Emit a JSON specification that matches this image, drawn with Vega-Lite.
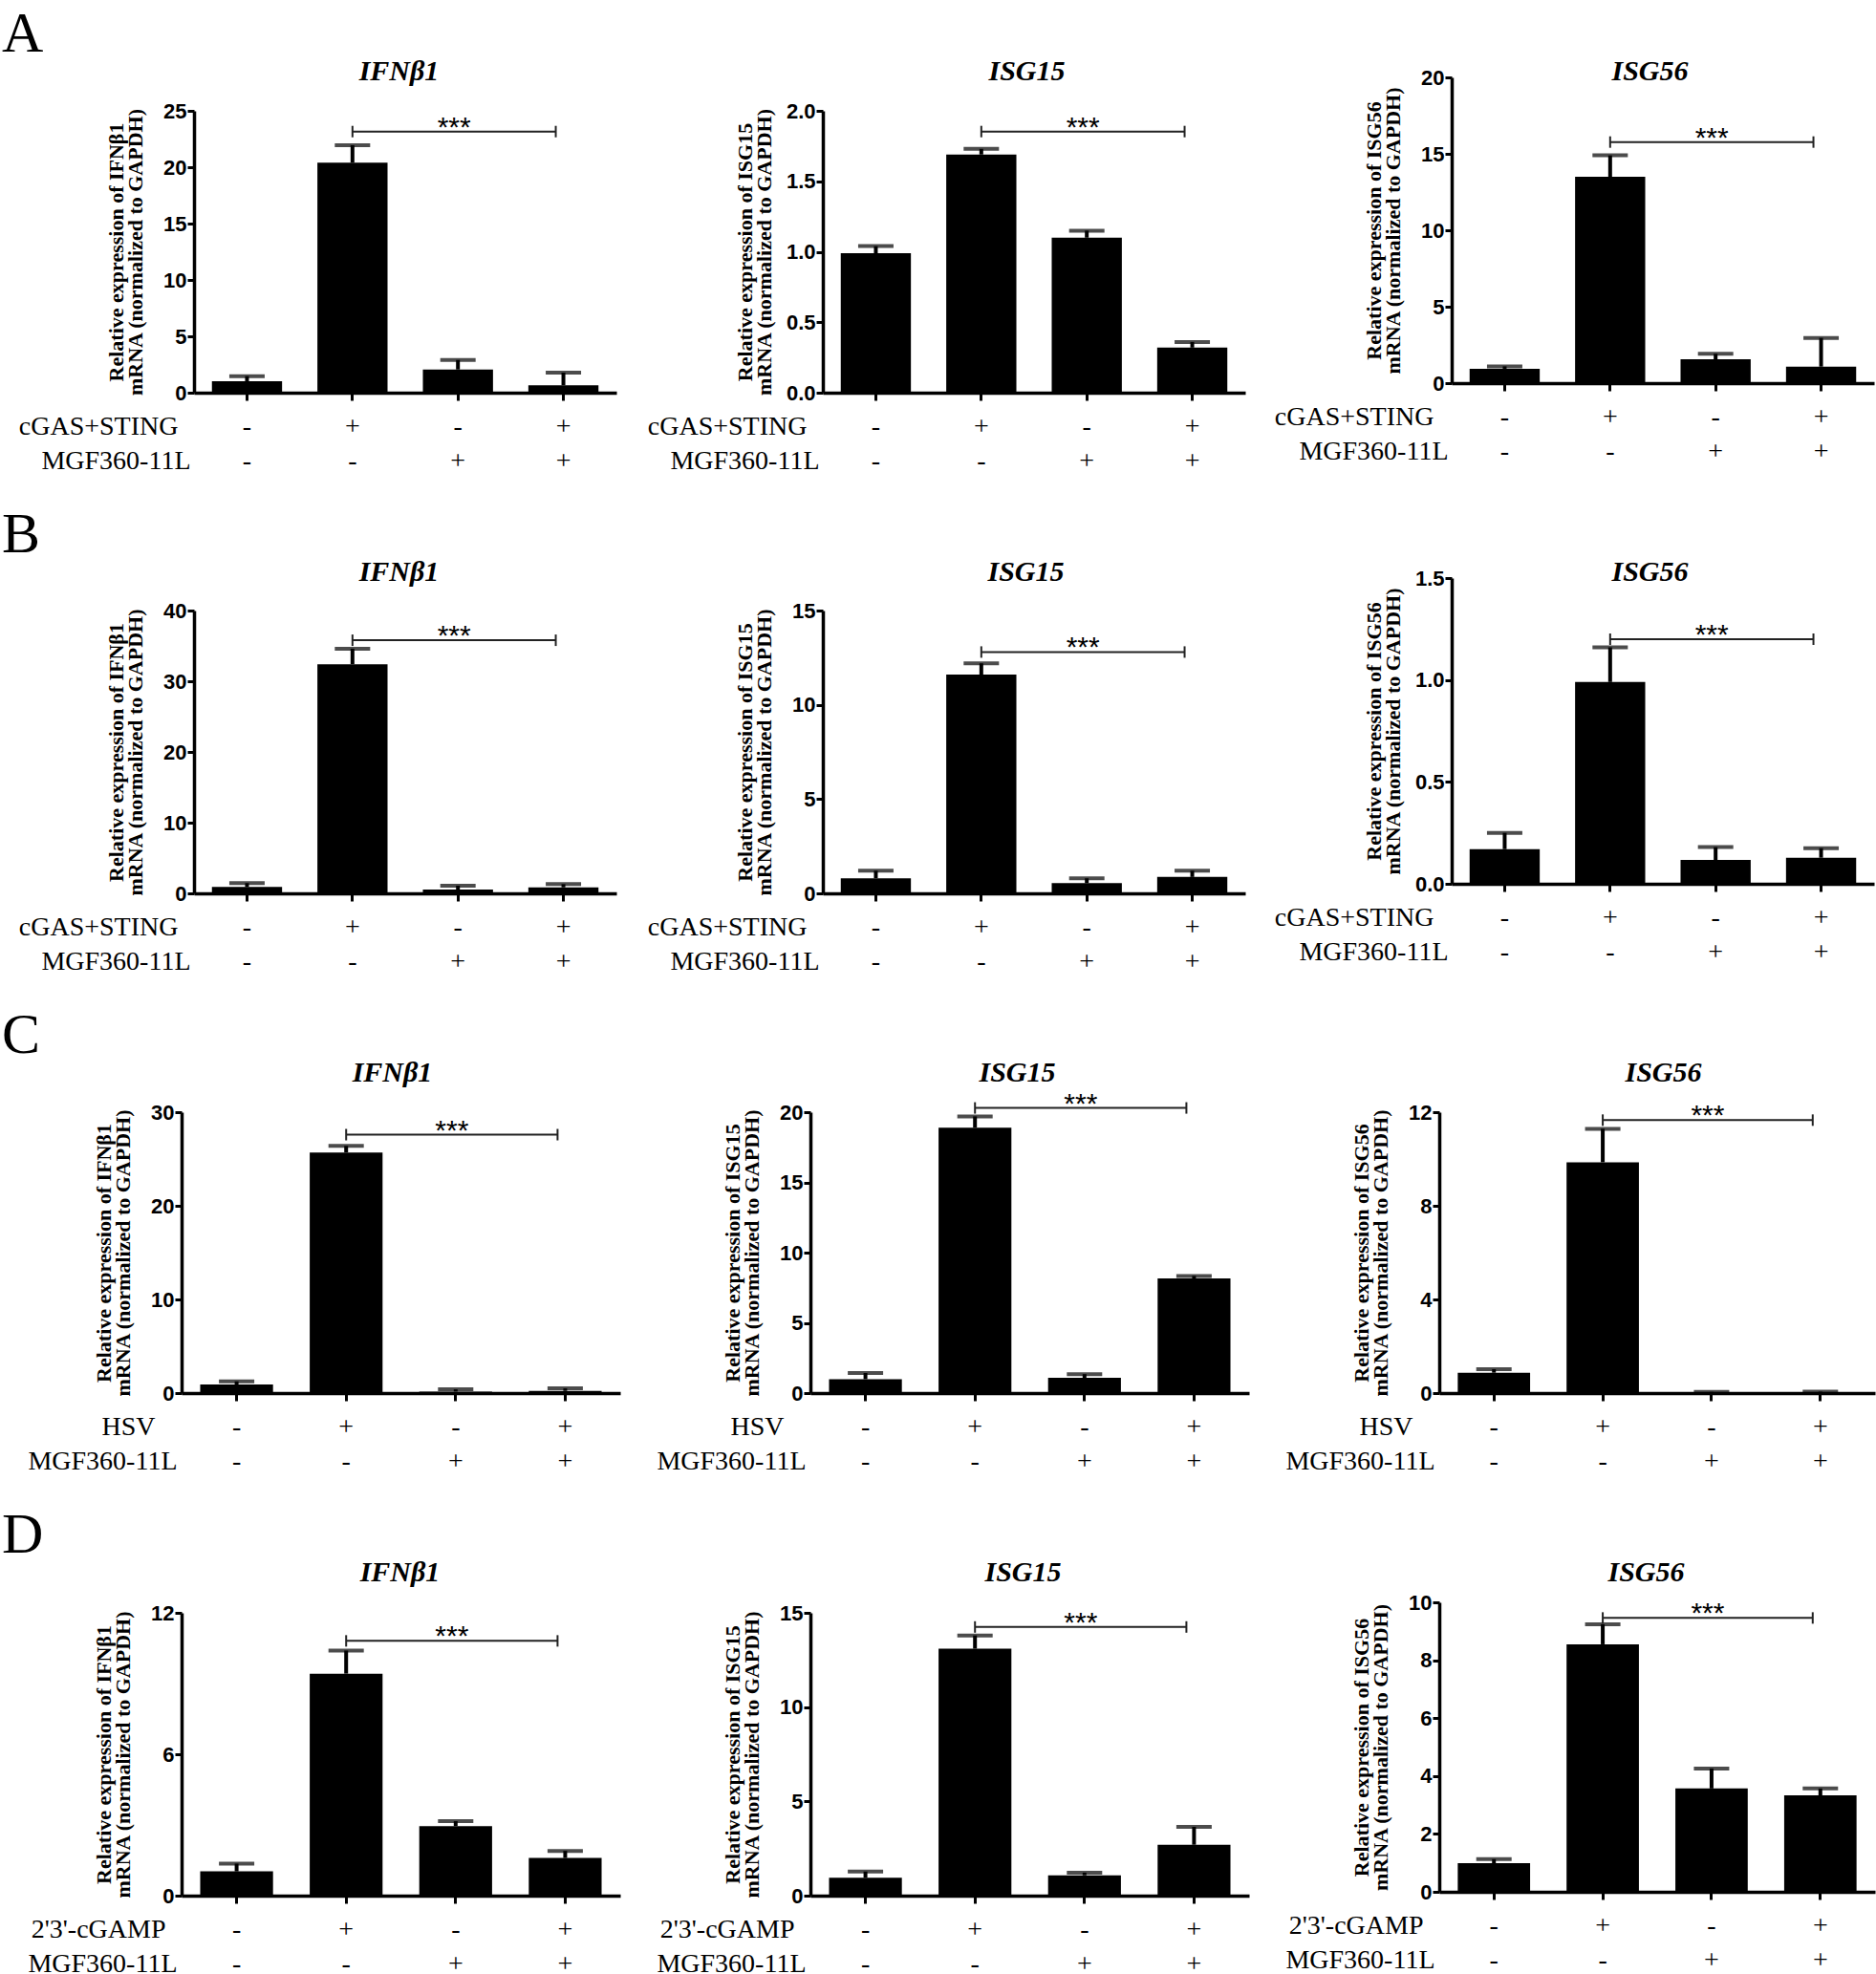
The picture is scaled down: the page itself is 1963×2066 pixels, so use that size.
{
"$schema": "https://vega.github.io/schema/vega-lite/v6.json",
"background": "white",
"padding": {"left": 2, "top": 6, "right": 0, "bottom": 0},
"bounds": "flush",
"align": "each",
"columns": 3,
"spacing": {"row": 194, "column": 216},
"concat": [
{"width":442,"height":330,
 "title":{"text":"A","anchor":"start","frame":"group","dx":-201,"offset":-55,"font":"Liberation Serif","fontSize":60,"fontWeight":"normal","baseline":"alphabetic","color":"black"},
 "data":{"values":[{"cond":"-|-","mean":1.02,"hi":1.47},{"cond":"+|-","mean":20.4,"hi":21.95},{"cond":"-|+","mean":2.06,"hi":2.9},{"cond":"+|+","mean":0.65,"hi":1.78}]},
 "resolve":{"axis":{"x":"independent","y":"independent"}},
 "layer":[
  {"mark":{"type":"bar","color":"black"},"encoding":{
    "x":{"field":"cond","type":"nominal","scale":{"domain":["-|-","+|-","-|+","+|+"],"paddingInner":0.335,"paddingOuter":0.17},"axis":{"orient":"bottom","labelExpr":"split(datum.label, '|')","title":"cGAS+STING","titleX":-17}},
    "y":{"field":"mean","type":"quantitative","scale":{"domain":[0,25],"nice":false,"range":[330,35]},"axis":{"values":[0,5,10,15,20,25],"format":"d","title":["Relative expression of IFNβ1","mRNA (normalized to GAPDH)"],"titleY":182.5}}}},
  {"mark":{"type":"rule","color":"black","strokeWidth":4},"encoding":{
    "x":{"field":"cond","type":"nominal","scale":{"domain":["-|-","+|-","-|+","+|+"]},"axis":{"orient":"bottom","domain":false,"ticks":false,"labels":false,"title":"MGF360-11L","titleX":-4,"titleY":57}},
    "y":{"field":"mean","type":"quantitative","scale":{"domain":[0,25]},"axis":null},"y2":{"field":"hi"}}},
  {"mark":{"type":"tick","color":"black","thickness":4,"size":37},"encoding":{
    "x":{"field":"cond","type":"nominal","scale":{"domain":["-|-","+|-","-|+","+|+"]},"axis":null},
    "y":{"field":"hi","type":"quantitative","scale":{"domain":[0,25]},"axis":null}}},
  {"data":{"values":[{"cond":"+|-","cond2":"+|+","y":23.16}]},"mark":{"type":"rule","color":"#222","strokeWidth":2,"x2Offset":-8},"encoding":{
    "x":{"field":"cond","type":"nominal","scale":{"domain":["-|-","+|-","-|+","+|+"]},"axis":null},"x2":{"field":"cond2"},
    "y":{"field":"y","type":"quantitative","scale":{"domain":[0,25]},"axis":null}}},
  {"data":{"values":[{"cond":"+|-","y":23.16}]},"mark":{"type":"point","shape":"M0,-1L0,1","size":144,"filled":false,"color":"#222","strokeWidth":2,"opacity":1},"encoding":{
    "x":{"field":"cond","type":"nominal","scale":{"domain":["-|-","+|-","-|+","+|+"]},"axis":null},
    "y":{"field":"y","type":"quantitative","scale":{"domain":[0,25]},"axis":null}}},
  {"data":{"values":[{"cond":"+|+","y":23.16}]},"mark":{"type":"point","shape":"M0,-1L0,1","size":144,"filled":false,"color":"#222","strokeWidth":2,"opacity":1,"xOffset":-8},"encoding":{
    "x":{"field":"cond","type":"nominal","scale":{"domain":["-|-","+|-","-|+","+|+"]},"axis":null},
    "y":{"field":"y","type":"quantitative","scale":{"domain":[0,25]},"axis":null}}},
  {"data":{"values":[{"cond":"-|+","y":23.16,"t":"***"}]},"mark":{"type":"text","font":"Liberation Sans","fontSize":30,"baseline":"alphabetic","dx":-4,"dy":5,"color":"black"},"encoding":{
    "x":{"field":"cond","type":"nominal","scale":{"domain":["-|-","+|-","-|+","+|+"]},"axis":{"orient":"top","title":"IFNβ1","titleX":214}},
    "y":{"field":"y","type":"quantitative","scale":{"domain":[0,25]},"axis":null},"text":{"field":"t"}}}
 ]},
{"width":442,"height":330,
 "data":{"values":[{"cond":"-|-","mean":0.99,"hi":1.04},{"cond":"+|-","mean":1.69,"hi":1.73},{"cond":"-|+","mean":1.10,"hi":1.15},{"cond":"+|+","mean":0.32,"hi":0.36}]},
 "resolve":{"axis":{"x":"independent","y":"independent"}},
 "layer":[
  {"mark":{"type":"bar","color":"black"},"encoding":{
    "x":{"field":"cond","type":"nominal","scale":{"domain":["-|-","+|-","-|+","+|+"],"paddingInner":0.335,"paddingOuter":0.17},"axis":{"orient":"bottom","labelExpr":"split(datum.label, '|')","title":"cGAS+STING","titleX":-17}},
    "y":{"field":"mean","type":"quantitative","scale":{"domain":[0,2],"nice":false,"range":[330,35]},"axis":{"values":[0,0.5,1,1.5,2],"format":".1f","title":["Relative expression of ISG15","mRNA (normalized to GAPDH)"],"titleY":182.5}}}},
  {"mark":{"type":"rule","color":"black","strokeWidth":4},"encoding":{
    "x":{"field":"cond","type":"nominal","scale":{"domain":["-|-","+|-","-|+","+|+"]},"axis":{"orient":"bottom","domain":false,"ticks":false,"labels":false,"title":"MGF360-11L","titleX":-4,"titleY":57}},
    "y":{"field":"mean","type":"quantitative","scale":{"domain":[0,2]},"axis":null},"y2":{"field":"hi"}}},
  {"mark":{"type":"tick","color":"black","thickness":4,"size":37},"encoding":{
    "x":{"field":"cond","type":"nominal","scale":{"domain":["-|-","+|-","-|+","+|+"]},"axis":null},
    "y":{"field":"hi","type":"quantitative","scale":{"domain":[0,2]},"axis":null}}},
  {"data":{"values":[{"cond":"+|-","cond2":"+|+","y":1.853}]},"mark":{"type":"rule","color":"#222","strokeWidth":2,"x2Offset":-8},"encoding":{
    "x":{"field":"cond","type":"nominal","scale":{"domain":["-|-","+|-","-|+","+|+"]},"axis":null},"x2":{"field":"cond2"},
    "y":{"field":"y","type":"quantitative","scale":{"domain":[0,2]},"axis":null}}},
  {"data":{"values":[{"cond":"+|-","y":1.853}]},"mark":{"type":"point","shape":"M0,-1L0,1","size":144,"filled":false,"color":"#222","strokeWidth":2,"opacity":1},"encoding":{
    "x":{"field":"cond","type":"nominal","scale":{"domain":["-|-","+|-","-|+","+|+"]},"axis":null},
    "y":{"field":"y","type":"quantitative","scale":{"domain":[0,2]},"axis":null}}},
  {"data":{"values":[{"cond":"+|+","y":1.853}]},"mark":{"type":"point","shape":"M0,-1L0,1","size":144,"filled":false,"color":"#222","strokeWidth":2,"opacity":1,"xOffset":-8},"encoding":{
    "x":{"field":"cond","type":"nominal","scale":{"domain":["-|-","+|-","-|+","+|+"]},"axis":null},
    "y":{"field":"y","type":"quantitative","scale":{"domain":[0,2]},"axis":null}}},
  {"data":{"values":[{"cond":"-|+","y":1.853,"t":"***"}]},"mark":{"type":"text","font":"Liberation Sans","fontSize":30,"baseline":"alphabetic","dx":-4,"dy":5,"color":"black"},"encoding":{
    "x":{"field":"cond","type":"nominal","scale":{"domain":["-|-","+|-","-|+","+|+"]},"axis":{"orient":"top","title":"ISG15","titleX":213}},
    "y":{"field":"y","type":"quantitative","scale":{"domain":[0,2]},"axis":null},"text":{"field":"t"}}}
 ]},
{"width":442,"height":320,
 "data":{"values":[{"cond":"-|-","mean":0.94,"hi":1.1},{"cond":"+|-","mean":13.5,"hi":14.9},{"cond":"-|+","mean":1.56,"hi":1.92},{"cond":"+|+","mean":1.08,"hi":2.96}]},
 "resolve":{"axis":{"x":"independent","y":"independent"}},
 "layer":[
  {"mark":{"type":"bar","color":"black"},"encoding":{
    "x":{"field":"cond","type":"nominal","scale":{"domain":["-|-","+|-","-|+","+|+"],"paddingInner":0.335,"paddingOuter":0.17},"axis":{"orient":"bottom","labelExpr":"split(datum.label, '|')","title":"cGAS+STING","titleX":-19}},
    "y":{"field":"mean","type":"quantitative","scale":{"domain":[0,20],"nice":false,"range":[320,0]},"axis":{"values":[0,5,10,15,20],"format":"d","title":["Relative expression of ISG56","mRNA (normalized to GAPDH)"],"titleY":160}}}},
  {"mark":{"type":"rule","color":"black","strokeWidth":4},"encoding":{
    "x":{"field":"cond","type":"nominal","scale":{"domain":["-|-","+|-","-|+","+|+"]},"axis":{"orient":"bottom","domain":false,"ticks":false,"labels":false,"title":"MGF360-11L","titleX":-4,"titleY":57}},
    "y":{"field":"mean","type":"quantitative","scale":{"domain":[0,20]},"axis":null},"y2":{"field":"hi"}}},
  {"mark":{"type":"tick","color":"black","thickness":4,"size":37},"encoding":{
    "x":{"field":"cond","type":"nominal","scale":{"domain":["-|-","+|-","-|+","+|+"]},"axis":null},
    "y":{"field":"hi","type":"quantitative","scale":{"domain":[0,20]},"axis":null}}},
  {"data":{"values":[{"cond":"+|-","cond2":"+|+","y":15.77}]},"mark":{"type":"rule","color":"#222","strokeWidth":2,"x2Offset":-8},"encoding":{
    "x":{"field":"cond","type":"nominal","scale":{"domain":["-|-","+|-","-|+","+|+"]},"axis":null},"x2":{"field":"cond2"},
    "y":{"field":"y","type":"quantitative","scale":{"domain":[0,20]},"axis":null}}},
  {"data":{"values":[{"cond":"+|-","y":15.77}]},"mark":{"type":"point","shape":"M0,-1L0,1","size":144,"filled":false,"color":"#222","strokeWidth":2,"opacity":1},"encoding":{
    "x":{"field":"cond","type":"nominal","scale":{"domain":["-|-","+|-","-|+","+|+"]},"axis":null},
    "y":{"field":"y","type":"quantitative","scale":{"domain":[0,20]},"axis":null}}},
  {"data":{"values":[{"cond":"+|+","y":15.77}]},"mark":{"type":"point","shape":"M0,-1L0,1","size":144,"filled":false,"color":"#222","strokeWidth":2,"opacity":1,"xOffset":-8},"encoding":{
    "x":{"field":"cond","type":"nominal","scale":{"domain":["-|-","+|-","-|+","+|+"]},"axis":null},
    "y":{"field":"y","type":"quantitative","scale":{"domain":[0,20]},"axis":null}}},
  {"data":{"values":[{"cond":"-|+","y":15.77,"t":"***"}]},"mark":{"type":"text","font":"Liberation Sans","fontSize":30,"baseline":"alphabetic","dx":-4,"dy":5,"color":"black"},"encoding":{
    "x":{"field":"cond","type":"nominal","scale":{"domain":["-|-","+|-","-|+","+|+"]},"axis":{"orient":"top","title":"ISG56","titleX":207}},
    "y":{"field":"y","type":"quantitative","scale":{"domain":[0,20]},"axis":null},"text":{"field":"t"}}}
 ]},
{"width":442,"height":330,
 "title":{"text":"B","anchor":"start","frame":"group","dx":-201,"offset":-55,"font":"Liberation Serif","fontSize":60,"fontWeight":"normal","baseline":"alphabetic","color":"black"},
 "data":{"values":[{"cond":"-|-","mean":0.9,"hi":1.45},{"cond":"+|-","mean":32.4,"hi":34.6},{"cond":"-|+","mean":0.54,"hi":1.08},{"cond":"+|+","mean":0.85,"hi":1.31}]},
 "resolve":{"axis":{"x":"independent","y":"independent"}},
 "layer":[
  {"mark":{"type":"bar","color":"black"},"encoding":{
    "x":{"field":"cond","type":"nominal","scale":{"domain":["-|-","+|-","-|+","+|+"],"paddingInner":0.335,"paddingOuter":0.17},"axis":{"orient":"bottom","labelExpr":"split(datum.label, '|')","title":"cGAS+STING","titleX":-17}},
    "y":{"field":"mean","type":"quantitative","scale":{"domain":[0,40],"nice":false,"range":[330,34]},"axis":{"values":[0,10,20,30,40],"format":"d","title":["Relative expression of IFNβ1","mRNA (normalized to GAPDH)"],"titleY":182}}}},
  {"mark":{"type":"rule","color":"black","strokeWidth":4},"encoding":{
    "x":{"field":"cond","type":"nominal","scale":{"domain":["-|-","+|-","-|+","+|+"]},"axis":{"orient":"bottom","domain":false,"ticks":false,"labels":false,"title":"MGF360-11L","titleX":-4,"titleY":57}},
    "y":{"field":"mean","type":"quantitative","scale":{"domain":[0,40]},"axis":null},"y2":{"field":"hi"}}},
  {"mark":{"type":"tick","color":"black","thickness":4,"size":37},"encoding":{
    "x":{"field":"cond","type":"nominal","scale":{"domain":["-|-","+|-","-|+","+|+"]},"axis":null},
    "y":{"field":"hi","type":"quantitative","scale":{"domain":[0,40]},"axis":null}}},
  {"data":{"values":[{"cond":"+|-","cond2":"+|+","y":35.8}]},"mark":{"type":"rule","color":"#222","strokeWidth":2,"x2Offset":-8},"encoding":{
    "x":{"field":"cond","type":"nominal","scale":{"domain":["-|-","+|-","-|+","+|+"]},"axis":null},"x2":{"field":"cond2"},
    "y":{"field":"y","type":"quantitative","scale":{"domain":[0,40]},"axis":null}}},
  {"data":{"values":[{"cond":"+|-","y":35.8}]},"mark":{"type":"point","shape":"M0,-1L0,1","size":144,"filled":false,"color":"#222","strokeWidth":2,"opacity":1},"encoding":{
    "x":{"field":"cond","type":"nominal","scale":{"domain":["-|-","+|-","-|+","+|+"]},"axis":null},
    "y":{"field":"y","type":"quantitative","scale":{"domain":[0,40]},"axis":null}}},
  {"data":{"values":[{"cond":"+|+","y":35.8}]},"mark":{"type":"point","shape":"M0,-1L0,1","size":144,"filled":false,"color":"#222","strokeWidth":2,"opacity":1,"xOffset":-8},"encoding":{
    "x":{"field":"cond","type":"nominal","scale":{"domain":["-|-","+|-","-|+","+|+"]},"axis":null},
    "y":{"field":"y","type":"quantitative","scale":{"domain":[0,40]},"axis":null}}},
  {"data":{"values":[{"cond":"-|+","y":35.8,"t":"***"}]},"mark":{"type":"text","font":"Liberation Sans","fontSize":30,"baseline":"alphabetic","dx":-4,"dy":5,"color":"black"},"encoding":{
    "x":{"field":"cond","type":"nominal","scale":{"domain":["-|-","+|-","-|+","+|+"]},"axis":{"orient":"top","title":"IFNβ1","titleX":214}},
    "y":{"field":"y","type":"quantitative","scale":{"domain":[0,40]},"axis":null},"text":{"field":"t"}}}
 ]},
{"width":442,"height":330,
 "data":{"values":[{"cond":"-|-","mean":0.8,"hi":1.2},{"cond":"+|-","mean":11.6,"hi":12.2},{"cond":"-|+","mean":0.54,"hi":0.8},{"cond":"+|+","mean":0.87,"hi":1.2}]},
 "resolve":{"axis":{"x":"independent","y":"independent"}},
 "layer":[
  {"mark":{"type":"bar","color":"black"},"encoding":{
    "x":{"field":"cond","type":"nominal","scale":{"domain":["-|-","+|-","-|+","+|+"],"paddingInner":0.335,"paddingOuter":0.17},"axis":{"orient":"bottom","labelExpr":"split(datum.label, '|')","title":"cGAS+STING","titleX":-17}},
    "y":{"field":"mean","type":"quantitative","scale":{"domain":[0,15],"nice":false,"range":[330,34]},"axis":{"values":[0,5,10,15],"format":"d","title":["Relative expression of ISG15","mRNA (normalized to GAPDH)"],"titleY":182}}}},
  {"mark":{"type":"rule","color":"black","strokeWidth":4},"encoding":{
    "x":{"field":"cond","type":"nominal","scale":{"domain":["-|-","+|-","-|+","+|+"]},"axis":{"orient":"bottom","domain":false,"ticks":false,"labels":false,"title":"MGF360-11L","titleX":-4,"titleY":57}},
    "y":{"field":"mean","type":"quantitative","scale":{"domain":[0,15]},"axis":null},"y2":{"field":"hi"}}},
  {"mark":{"type":"tick","color":"black","thickness":4,"size":37},"encoding":{
    "x":{"field":"cond","type":"nominal","scale":{"domain":["-|-","+|-","-|+","+|+"]},"axis":null},
    "y":{"field":"hi","type":"quantitative","scale":{"domain":[0,15]},"axis":null}}},
  {"data":{"values":[{"cond":"+|-","cond2":"+|+","y":12.8}]},"mark":{"type":"rule","color":"#222","strokeWidth":2,"x2Offset":-8},"encoding":{
    "x":{"field":"cond","type":"nominal","scale":{"domain":["-|-","+|-","-|+","+|+"]},"axis":null},"x2":{"field":"cond2"},
    "y":{"field":"y","type":"quantitative","scale":{"domain":[0,15]},"axis":null}}},
  {"data":{"values":[{"cond":"+|-","y":12.8}]},"mark":{"type":"point","shape":"M0,-1L0,1","size":144,"filled":false,"color":"#222","strokeWidth":2,"opacity":1},"encoding":{
    "x":{"field":"cond","type":"nominal","scale":{"domain":["-|-","+|-","-|+","+|+"]},"axis":null},
    "y":{"field":"y","type":"quantitative","scale":{"domain":[0,15]},"axis":null}}},
  {"data":{"values":[{"cond":"+|+","y":12.8}]},"mark":{"type":"point","shape":"M0,-1L0,1","size":144,"filled":false,"color":"#222","strokeWidth":2,"opacity":1,"xOffset":-8},"encoding":{
    "x":{"field":"cond","type":"nominal","scale":{"domain":["-|-","+|-","-|+","+|+"]},"axis":null},
    "y":{"field":"y","type":"quantitative","scale":{"domain":[0,15]},"axis":null}}},
  {"data":{"values":[{"cond":"-|+","y":12.8,"t":"***"}]},"mark":{"type":"text","font":"Liberation Sans","fontSize":30,"baseline":"alphabetic","dx":-4,"dy":5,"color":"black"},"encoding":{
    "x":{"field":"cond","type":"nominal","scale":{"domain":["-|-","+|-","-|+","+|+"]},"axis":{"orient":"top","title":"ISG15","titleX":212}},
    "y":{"field":"y","type":"quantitative","scale":{"domain":[0,15]},"axis":null},"text":{"field":"t"}}}
 ]},
{"width":442,"height":320,
 "data":{"values":[{"cond":"-|-","mean":0.17,"hi":0.25},{"cond":"+|-","mean":0.99,"hi":1.16},{"cond":"-|+","mean":0.117,"hi":0.18},{"cond":"+|+","mean":0.128,"hi":0.175}]},
 "resolve":{"axis":{"x":"independent","y":"independent"}},
 "layer":[
  {"mark":{"type":"bar","color":"black"},"encoding":{
    "x":{"field":"cond","type":"nominal","scale":{"domain":["-|-","+|-","-|+","+|+"],"paddingInner":0.335,"paddingOuter":0.17},"axis":{"orient":"bottom","labelExpr":"split(datum.label, '|')","title":"cGAS+STING","titleX":-19}},
    "y":{"field":"mean","type":"quantitative","scale":{"domain":[0,1.5],"nice":false,"range":[320,0]},"axis":{"values":[0,0.5,1,1.5],"format":".1f","title":["Relative expression of ISG56","mRNA (normalized to GAPDH)"],"titleY":160}}}},
  {"mark":{"type":"rule","color":"black","strokeWidth":4},"encoding":{
    "x":{"field":"cond","type":"nominal","scale":{"domain":["-|-","+|-","-|+","+|+"]},"axis":{"orient":"bottom","domain":false,"ticks":false,"labels":false,"title":"MGF360-11L","titleX":-4,"titleY":57}},
    "y":{"field":"mean","type":"quantitative","scale":{"domain":[0,1.5]},"axis":null},"y2":{"field":"hi"}}},
  {"mark":{"type":"tick","color":"black","thickness":4,"size":37},"encoding":{
    "x":{"field":"cond","type":"nominal","scale":{"domain":["-|-","+|-","-|+","+|+"]},"axis":null},
    "y":{"field":"hi","type":"quantitative","scale":{"domain":[0,1.5]},"axis":null}}},
  {"data":{"values":[{"cond":"+|-","cond2":"+|+","y":1.2}]},"mark":{"type":"rule","color":"#222","strokeWidth":2,"x2Offset":-8},"encoding":{
    "x":{"field":"cond","type":"nominal","scale":{"domain":["-|-","+|-","-|+","+|+"]},"axis":null},"x2":{"field":"cond2"},
    "y":{"field":"y","type":"quantitative","scale":{"domain":[0,1.5]},"axis":null}}},
  {"data":{"values":[{"cond":"+|-","y":1.2}]},"mark":{"type":"point","shape":"M0,-1L0,1","size":144,"filled":false,"color":"#222","strokeWidth":2,"opacity":1},"encoding":{
    "x":{"field":"cond","type":"nominal","scale":{"domain":["-|-","+|-","-|+","+|+"]},"axis":null},
    "y":{"field":"y","type":"quantitative","scale":{"domain":[0,1.5]},"axis":null}}},
  {"data":{"values":[{"cond":"+|+","y":1.2}]},"mark":{"type":"point","shape":"M0,-1L0,1","size":144,"filled":false,"color":"#222","strokeWidth":2,"opacity":1,"xOffset":-8},"encoding":{
    "x":{"field":"cond","type":"nominal","scale":{"domain":["-|-","+|-","-|+","+|+"]},"axis":null},
    "y":{"field":"y","type":"quantitative","scale":{"domain":[0,1.5]},"axis":null}}},
  {"data":{"values":[{"cond":"-|+","y":1.2,"t":"***"}]},"mark":{"type":"text","font":"Liberation Sans","fontSize":30,"baseline":"alphabetic","dx":-4,"dy":5,"color":"black"},"encoding":{
    "x":{"field":"cond","type":"nominal","scale":{"domain":["-|-","+|-","-|+","+|+"]},"axis":{"orient":"top","title":"ISG56","titleX":207}},
    "y":{"field":"y","type":"quantitative","scale":{"domain":[0,1.5]},"axis":null},"text":{"field":"t"}}}
 ]},
{"width":442,"height":329,
 "title":{"text":"C","anchor":"start","frame":"group","dx":-201,"offset":-55,"font":"Liberation Serif","fontSize":60,"fontWeight":"normal","baseline":"alphabetic","color":"black"},
 "data":{"values":[{"cond":"-|-","mean":0.92,"hi":1.25},{"cond":"+|-","mean":25.7,"hi":26.4},{"cond":"-|+","mean":0.16,"hi":0.4},{"cond":"+|+","mean":0.23,"hi":0.5}]},
 "resolve":{"axis":{"x":"independent","y":"independent"}},
 "layer":[
  {"mark":{"type":"bar","color":"black"},"encoding":{
    "x":{"field":"cond","type":"nominal","scale":{"domain":["-|-","+|-","-|+","+|+"],"paddingInner":0.335,"paddingOuter":0.17,"range":[-13,446]},"axis":{"orient":"bottom","labelExpr":"split(datum.label, '|')","title":"HSV","titleX":-41}},
    "y":{"field":"mean","type":"quantitative","scale":{"domain":[0,30],"nice":false,"range":[329,35]},"axis":{"values":[0,10,20,30],"format":"d","offset":13,"title":["Relative expression of IFNβ1","mRNA (normalized to GAPDH)"],"titleY":182}}}},
  {"mark":{"type":"rule","color":"black","strokeWidth":4},"encoding":{
    "x":{"field":"cond","type":"nominal","scale":{"domain":["-|-","+|-","-|+","+|+"]},"axis":{"orient":"bottom","domain":false,"ticks":false,"labels":false,"title":"MGF360-11L","titleX":-18,"titleY":57}},
    "y":{"field":"mean","type":"quantitative","scale":{"domain":[0,30]},"axis":null},"y2":{"field":"hi"}}},
  {"mark":{"type":"tick","color":"black","thickness":4,"size":37},"encoding":{
    "x":{"field":"cond","type":"nominal","scale":{"domain":["-|-","+|-","-|+","+|+"]},"axis":null},
    "y":{"field":"hi","type":"quantitative","scale":{"domain":[0,30]},"axis":null}}},
  {"data":{"values":[{"cond":"+|-","cond2":"+|+","y":27.6}]},"mark":{"type":"rule","color":"#222","strokeWidth":2,"x2Offset":-8},"encoding":{
    "x":{"field":"cond","type":"nominal","scale":{"domain":["-|-","+|-","-|+","+|+"]},"axis":null},"x2":{"field":"cond2"},
    "y":{"field":"y","type":"quantitative","scale":{"domain":[0,30]},"axis":null}}},
  {"data":{"values":[{"cond":"+|-","y":27.6}]},"mark":{"type":"point","shape":"M0,-1L0,1","size":144,"filled":false,"color":"#222","strokeWidth":2,"opacity":1},"encoding":{
    "x":{"field":"cond","type":"nominal","scale":{"domain":["-|-","+|-","-|+","+|+"]},"axis":null},
    "y":{"field":"y","type":"quantitative","scale":{"domain":[0,30]},"axis":null}}},
  {"data":{"values":[{"cond":"+|+","y":27.6}]},"mark":{"type":"point","shape":"M0,-1L0,1","size":144,"filled":false,"color":"#222","strokeWidth":2,"opacity":1,"xOffset":-8},"encoding":{
    "x":{"field":"cond","type":"nominal","scale":{"domain":["-|-","+|-","-|+","+|+"]},"axis":null},
    "y":{"field":"y","type":"quantitative","scale":{"domain":[0,30]},"axis":null}}},
  {"data":{"values":[{"cond":"-|+","y":27.6,"t":"***"}]},"mark":{"type":"text","font":"Liberation Sans","fontSize":30,"baseline":"alphabetic","dx":-4,"dy":5,"color":"black"},"encoding":{
    "x":{"field":"cond","type":"nominal","scale":{"domain":["-|-","+|-","-|+","+|+"]},"axis":{"orient":"top","title":"IFNβ1","titleX":207}},
    "y":{"field":"y","type":"quantitative","scale":{"domain":[0,30]},"axis":null},"text":{"field":"t"}}}
 ]},
{"width":442,"height":329,
 "data":{"values":[{"cond":"-|-","mean":0.99,"hi":1.43},{"cond":"+|-","mean":18.9,"hi":19.7},{"cond":"-|+","mean":1.08,"hi":1.35},{"cond":"+|+","mean":8.16,"hi":8.34}]},
 "resolve":{"axis":{"x":"independent","y":"independent"}},
 "layer":[
  {"mark":{"type":"bar","color":"black"},"encoding":{
    "x":{"field":"cond","type":"nominal","scale":{"domain":["-|-","+|-","-|+","+|+"],"paddingInner":0.335,"paddingOuter":0.17,"range":[-13,446]},"axis":{"orient":"bottom","labelExpr":"split(datum.label, '|')","title":"HSV","titleX":-41}},
    "y":{"field":"mean","type":"quantitative","scale":{"domain":[0,20],"nice":false,"range":[329,35]},"axis":{"values":[0,5,10,15,20],"format":"d","offset":13,"title":["Relative expression of ISG15","mRNA (normalized to GAPDH)"],"titleY":182}}}},
  {"mark":{"type":"rule","color":"black","strokeWidth":4},"encoding":{
    "x":{"field":"cond","type":"nominal","scale":{"domain":["-|-","+|-","-|+","+|+"]},"axis":{"orient":"bottom","domain":false,"ticks":false,"labels":false,"title":"MGF360-11L","titleX":-18,"titleY":57}},
    "y":{"field":"mean","type":"quantitative","scale":{"domain":[0,20]},"axis":null},"y2":{"field":"hi"}}},
  {"mark":{"type":"tick","color":"black","thickness":4,"size":37},"encoding":{
    "x":{"field":"cond","type":"nominal","scale":{"domain":["-|-","+|-","-|+","+|+"]},"axis":null},
    "y":{"field":"hi","type":"quantitative","scale":{"domain":[0,20]},"axis":null}}},
  {"data":{"values":[{"cond":"+|-","cond2":"+|+","y":20.3}]},"mark":{"type":"rule","color":"#222","strokeWidth":2,"x2Offset":-8},"encoding":{
    "x":{"field":"cond","type":"nominal","scale":{"domain":["-|-","+|-","-|+","+|+"]},"axis":null},"x2":{"field":"cond2"},
    "y":{"field":"y","type":"quantitative","scale":{"domain":[0,20]},"axis":null}}},
  {"data":{"values":[{"cond":"+|-","y":20.3}]},"mark":{"type":"point","shape":"M0,-1L0,1","size":144,"filled":false,"color":"#222","strokeWidth":2,"opacity":1},"encoding":{
    "x":{"field":"cond","type":"nominal","scale":{"domain":["-|-","+|-","-|+","+|+"]},"axis":null},
    "y":{"field":"y","type":"quantitative","scale":{"domain":[0,20]},"axis":null}}},
  {"data":{"values":[{"cond":"+|+","y":20.3}]},"mark":{"type":"point","shape":"M0,-1L0,1","size":144,"filled":false,"color":"#222","strokeWidth":2,"opacity":1,"xOffset":-8},"encoding":{
    "x":{"field":"cond","type":"nominal","scale":{"domain":["-|-","+|-","-|+","+|+"]},"axis":null},
    "y":{"field":"y","type":"quantitative","scale":{"domain":[0,20]},"axis":null}}},
  {"data":{"values":[{"cond":"-|+","y":20.3,"t":"***"}]},"mark":{"type":"text","font":"Liberation Sans","fontSize":30,"baseline":"alphabetic","dx":-4,"dy":5,"color":"black"},"encoding":{
    "x":{"field":"cond","type":"nominal","scale":{"domain":["-|-","+|-","-|+","+|+"]},"axis":{"orient":"top","title":"ISG15","titleX":203}},
    "y":{"field":"y","type":"quantitative","scale":{"domain":[0,20]},"axis":null},"text":{"field":"t"}}}
 ]},
{"width":442,"height":329,
 "data":{"values":[{"cond":"-|-","mean":0.87,"hi":1.02},{"cond":"+|-","mean":9.86,"hi":11.29},{"cond":"-|+","mean":0.03,"hi":0.05},{"cond":"+|+","mean":0.04,"hi":0.06}]},
 "resolve":{"axis":{"x":"independent","y":"independent"}},
 "layer":[
  {"mark":{"type":"bar","color":"black"},"encoding":{
    "x":{"field":"cond","type":"nominal","scale":{"domain":["-|-","+|-","-|+","+|+"],"paddingInner":0.335,"paddingOuter":0.17,"range":[-13,443]},"axis":{"orient":"bottom","labelExpr":"split(datum.label, '|')","title":"HSV","titleX":-41}},
    "y":{"field":"mean","type":"quantitative","scale":{"domain":[0,12],"nice":false,"range":[329,35]},"axis":{"values":[0,4,8,12],"format":"d","offset":13,"title":["Relative expression of ISG56","mRNA (normalized to GAPDH)"],"titleY":182}}}},
  {"mark":{"type":"rule","color":"black","strokeWidth":4},"encoding":{
    "x":{"field":"cond","type":"nominal","scale":{"domain":["-|-","+|-","-|+","+|+"]},"axis":{"orient":"bottom","domain":false,"ticks":false,"labels":false,"title":"MGF360-11L","titleX":-18,"titleY":57}},
    "y":{"field":"mean","type":"quantitative","scale":{"domain":[0,12]},"axis":null},"y2":{"field":"hi"}}},
  {"mark":{"type":"tick","color":"black","thickness":4,"size":37},"encoding":{
    "x":{"field":"cond","type":"nominal","scale":{"domain":["-|-","+|-","-|+","+|+"]},"axis":null},
    "y":{"field":"hi","type":"quantitative","scale":{"domain":[0,12]},"axis":null}}},
  {"data":{"values":[{"cond":"+|-","cond2":"+|+","y":11.66}]},"mark":{"type":"rule","color":"#222","strokeWidth":2,"x2Offset":-8},"encoding":{
    "x":{"field":"cond","type":"nominal","scale":{"domain":["-|-","+|-","-|+","+|+"]},"axis":null},"x2":{"field":"cond2"},
    "y":{"field":"y","type":"quantitative","scale":{"domain":[0,12]},"axis":null}}},
  {"data":{"values":[{"cond":"+|-","y":11.66}]},"mark":{"type":"point","shape":"M0,-1L0,1","size":144,"filled":false,"color":"#222","strokeWidth":2,"opacity":1},"encoding":{
    "x":{"field":"cond","type":"nominal","scale":{"domain":["-|-","+|-","-|+","+|+"]},"axis":null},
    "y":{"field":"y","type":"quantitative","scale":{"domain":[0,12]},"axis":null}}},
  {"data":{"values":[{"cond":"+|+","y":11.66}]},"mark":{"type":"point","shape":"M0,-1L0,1","size":144,"filled":false,"color":"#222","strokeWidth":2,"opacity":1,"xOffset":-8},"encoding":{
    "x":{"field":"cond","type":"nominal","scale":{"domain":["-|-","+|-","-|+","+|+"]},"axis":null},
    "y":{"field":"y","type":"quantitative","scale":{"domain":[0,12]},"axis":null}}},
  {"data":{"values":[{"cond":"-|+","y":11.66,"t":"***"}]},"mark":{"type":"text","font":"Liberation Sans","fontSize":30,"baseline":"alphabetic","dx":-4,"dy":5,"color":"black"},"encoding":{
    "x":{"field":"cond","type":"nominal","scale":{"domain":["-|-","+|-","-|+","+|+"]},"axis":{"orient":"top","title":"ISG56","titleX":221}},
    "y":{"field":"y","type":"quantitative","scale":{"domain":[0,12]},"axis":null},"text":{"field":"t"}}}
 ]},
{"width":442,"height":332,
 "title":{"text":"D","anchor":"start","frame":"group","dx":-201,"offset":-55,"font":"Liberation Serif","fontSize":60,"fontWeight":"normal","baseline":"alphabetic","color":"black"},
 "data":{"values":[{"cond":"-|-","mean":1.03,"hi":1.36},{"cond":"+|-","mean":9.42,"hi":10.4},{"cond":"-|+","mean":2.95,"hi":3.16},{"cond":"+|+","mean":1.6,"hi":1.9}]},
 "resolve":{"axis":{"x":"independent","y":"independent"}},
 "layer":[
  {"mark":{"type":"bar","color":"black"},"encoding":{
    "x":{"field":"cond","type":"nominal","scale":{"domain":["-|-","+|-","-|+","+|+"],"paddingInner":0.335,"paddingOuter":0.17,"range":[-13,446]},"axis":{"orient":"bottom","labelExpr":"split(datum.label, '|')","title":"2'3'-cGAMP","titleX":-30}},
    "y":{"field":"mean","type":"quantitative","scale":{"domain":[0,12],"nice":false,"range":[332,36]},"axis":{"values":[0,6,12],"format":"d","offset":13,"title":["Relative expression of IFNβ1","mRNA (normalized to GAPDH)"],"titleY":184}}}},
  {"mark":{"type":"rule","color":"black","strokeWidth":4},"encoding":{
    "x":{"field":"cond","type":"nominal","scale":{"domain":["-|-","+|-","-|+","+|+"]},"axis":{"orient":"bottom","domain":false,"ticks":false,"labels":false,"title":"MGF360-11L","titleX":-18,"titleY":57}},
    "y":{"field":"mean","type":"quantitative","scale":{"domain":[0,12]},"axis":null},"y2":{"field":"hi"}}},
  {"mark":{"type":"tick","color":"black","thickness":4,"size":37},"encoding":{
    "x":{"field":"cond","type":"nominal","scale":{"domain":["-|-","+|-","-|+","+|+"]},"axis":null},
    "y":{"field":"hi","type":"quantitative","scale":{"domain":[0,12]},"axis":null}}},
  {"data":{"values":[{"cond":"+|-","cond2":"+|+","y":10.81}]},"mark":{"type":"rule","color":"#222","strokeWidth":2,"x2Offset":-8},"encoding":{
    "x":{"field":"cond","type":"nominal","scale":{"domain":["-|-","+|-","-|+","+|+"]},"axis":null},"x2":{"field":"cond2"},
    "y":{"field":"y","type":"quantitative","scale":{"domain":[0,12]},"axis":null}}},
  {"data":{"values":[{"cond":"+|-","y":10.81}]},"mark":{"type":"point","shape":"M0,-1L0,1","size":144,"filled":false,"color":"#222","strokeWidth":2,"opacity":1},"encoding":{
    "x":{"field":"cond","type":"nominal","scale":{"domain":["-|-","+|-","-|+","+|+"]},"axis":null},
    "y":{"field":"y","type":"quantitative","scale":{"domain":[0,12]},"axis":null}}},
  {"data":{"values":[{"cond":"+|+","y":10.81}]},"mark":{"type":"point","shape":"M0,-1L0,1","size":144,"filled":false,"color":"#222","strokeWidth":2,"opacity":1,"xOffset":-8},"encoding":{
    "x":{"field":"cond","type":"nominal","scale":{"domain":["-|-","+|-","-|+","+|+"]},"axis":null},
    "y":{"field":"y","type":"quantitative","scale":{"domain":[0,12]},"axis":null}}},
  {"data":{"values":[{"cond":"-|+","y":10.81,"t":"***"}]},"mark":{"type":"text","font":"Liberation Sans","fontSize":30,"baseline":"alphabetic","dx":-4,"dy":5,"color":"black"},"encoding":{
    "x":{"field":"cond","type":"nominal","scale":{"domain":["-|-","+|-","-|+","+|+"]},"axis":{"orient":"top","title":"IFNβ1","titleX":215}},
    "y":{"field":"y","type":"quantitative","scale":{"domain":[0,12]},"axis":null},"text":{"field":"t"}}}
 ]},
{"width":442,"height":332,
 "data":{"values":[{"cond":"-|-","mean":0.95,"hi":1.28},{"cond":"+|-","mean":13.1,"hi":13.8},{"cond":"-|+","mean":1.08,"hi":1.22},{"cond":"+|+","mean":2.7,"hi":3.65}]},
 "resolve":{"axis":{"x":"independent","y":"independent"}},
 "layer":[
  {"mark":{"type":"bar","color":"black"},"encoding":{
    "x":{"field":"cond","type":"nominal","scale":{"domain":["-|-","+|-","-|+","+|+"],"paddingInner":0.335,"paddingOuter":0.17,"range":[-13,446]},"axis":{"orient":"bottom","labelExpr":"split(datum.label, '|')","title":"2'3'-cGAMP","titleX":-30}},
    "y":{"field":"mean","type":"quantitative","scale":{"domain":[0,15],"nice":false,"range":[332,36]},"axis":{"values":[0,5,10,15],"format":"d","offset":13,"title":["Relative expression of ISG15","mRNA (normalized to GAPDH)"],"titleY":184}}}},
  {"mark":{"type":"rule","color":"black","strokeWidth":4},"encoding":{
    "x":{"field":"cond","type":"nominal","scale":{"domain":["-|-","+|-","-|+","+|+"]},"axis":{"orient":"bottom","domain":false,"ticks":false,"labels":false,"title":"MGF360-11L","titleX":-18,"titleY":57}},
    "y":{"field":"mean","type":"quantitative","scale":{"domain":[0,15]},"axis":null},"y2":{"field":"hi"}}},
  {"mark":{"type":"tick","color":"black","thickness":4,"size":37},"encoding":{
    "x":{"field":"cond","type":"nominal","scale":{"domain":["-|-","+|-","-|+","+|+"]},"axis":null},
    "y":{"field":"hi","type":"quantitative","scale":{"domain":[0,15]},"axis":null}}},
  {"data":{"values":[{"cond":"+|-","cond2":"+|+","y":14.25}]},"mark":{"type":"rule","color":"#222","strokeWidth":2,"x2Offset":-8},"encoding":{
    "x":{"field":"cond","type":"nominal","scale":{"domain":["-|-","+|-","-|+","+|+"]},"axis":null},"x2":{"field":"cond2"},
    "y":{"field":"y","type":"quantitative","scale":{"domain":[0,15]},"axis":null}}},
  {"data":{"values":[{"cond":"+|-","y":14.25}]},"mark":{"type":"point","shape":"M0,-1L0,1","size":144,"filled":false,"color":"#222","strokeWidth":2,"opacity":1},"encoding":{
    "x":{"field":"cond","type":"nominal","scale":{"domain":["-|-","+|-","-|+","+|+"]},"axis":null},
    "y":{"field":"y","type":"quantitative","scale":{"domain":[0,15]},"axis":null}}},
  {"data":{"values":[{"cond":"+|+","y":14.25}]},"mark":{"type":"point","shape":"M0,-1L0,1","size":144,"filled":false,"color":"#222","strokeWidth":2,"opacity":1,"xOffset":-8},"encoding":{
    "x":{"field":"cond","type":"nominal","scale":{"domain":["-|-","+|-","-|+","+|+"]},"axis":null},
    "y":{"field":"y","type":"quantitative","scale":{"domain":[0,15]},"axis":null}}},
  {"data":{"values":[{"cond":"-|+","y":14.25,"t":"***"}]},"mark":{"type":"text","font":"Liberation Sans","fontSize":30,"baseline":"alphabetic","dx":-4,"dy":5,"color":"black"},"encoding":{
    "x":{"field":"cond","type":"nominal","scale":{"domain":["-|-","+|-","-|+","+|+"]},"axis":{"orient":"top","title":"ISG15","titleX":209}},
    "y":{"field":"y","type":"quantitative","scale":{"domain":[0,15]},"axis":null},"text":{"field":"t"}}}
 ]},
{"width":442,"height":328,
 "data":{"values":[{"cond":"-|-","mean":0.99,"hi":1.13},{"cond":"+|-","mean":8.55,"hi":9.24},{"cond":"-|+","mean":3.57,"hi":4.26},{"cond":"+|+","mean":3.33,"hi":3.57}]},
 "resolve":{"axis":{"x":"independent","y":"independent"}},
 "layer":[
  {"mark":{"type":"bar","color":"black"},"encoding":{
    "x":{"field":"cond","type":"nominal","scale":{"domain":["-|-","+|-","-|+","+|+"],"paddingInner":0.335,"paddingOuter":0.17,"range":[-13,443]},"axis":{"orient":"bottom","labelExpr":"split(datum.label, '|')","title":"2'3'-cGAMP","titleX":-30}},
    "y":{"field":"mean","type":"quantitative","scale":{"domain":[0,10],"nice":false,"range":[328,25]},"axis":{"values":[0,2,4,6,8,10],"format":"d","offset":13,"title":["Relative expression of ISG56","mRNA (normalized to GAPDH)"],"titleY":176.5}}}},
  {"mark":{"type":"rule","color":"black","strokeWidth":4},"encoding":{
    "x":{"field":"cond","type":"nominal","scale":{"domain":["-|-","+|-","-|+","+|+"]},"axis":{"orient":"bottom","domain":false,"ticks":false,"labels":false,"title":"MGF360-11L","titleX":-18,"titleY":57}},
    "y":{"field":"mean","type":"quantitative","scale":{"domain":[0,10]},"axis":null},"y2":{"field":"hi"}}},
  {"mark":{"type":"tick","color":"black","thickness":4,"size":37},"encoding":{
    "x":{"field":"cond","type":"nominal","scale":{"domain":["-|-","+|-","-|+","+|+"]},"axis":null},
    "y":{"field":"hi","type":"quantitative","scale":{"domain":[0,10]},"axis":null}}},
  {"data":{"values":[{"cond":"+|-","cond2":"+|+","y":9.46}]},"mark":{"type":"rule","color":"#222","strokeWidth":2,"x2Offset":-8},"encoding":{
    "x":{"field":"cond","type":"nominal","scale":{"domain":["-|-","+|-","-|+","+|+"]},"axis":null},"x2":{"field":"cond2"},
    "y":{"field":"y","type":"quantitative","scale":{"domain":[0,10]},"axis":null}}},
  {"data":{"values":[{"cond":"+|-","y":9.46}]},"mark":{"type":"point","shape":"M0,-1L0,1","size":144,"filled":false,"color":"#222","strokeWidth":2,"opacity":1},"encoding":{
    "x":{"field":"cond","type":"nominal","scale":{"domain":["-|-","+|-","-|+","+|+"]},"axis":null},
    "y":{"field":"y","type":"quantitative","scale":{"domain":[0,10]},"axis":null}}},
  {"data":{"values":[{"cond":"+|+","y":9.46}]},"mark":{"type":"point","shape":"M0,-1L0,1","size":144,"filled":false,"color":"#222","strokeWidth":2,"opacity":1,"xOffset":-8},"encoding":{
    "x":{"field":"cond","type":"nominal","scale":{"domain":["-|-","+|-","-|+","+|+"]},"axis":null},
    "y":{"field":"y","type":"quantitative","scale":{"domain":[0,10]},"axis":null}}},
  {"data":{"values":[{"cond":"-|+","y":9.46,"t":"***"}]},"mark":{"type":"text","font":"Liberation Sans","fontSize":30,"baseline":"alphabetic","dx":-4,"dy":5,"color":"black"},"encoding":{
    "x":{"field":"cond","type":"nominal","scale":{"domain":["-|-","+|-","-|+","+|+"]},"axis":{"orient":"top","title":"ISG56","titleX":203}},
    "y":{"field":"y","type":"quantitative","scale":{"domain":[0,10]},"axis":null},"text":{"field":"t"}}}
 ]}
],
"config": {
  "view": {"stroke": null},
  "axis": {"grid": false, "domainColor": "black", "tickColor": "black", "labelColor": "black", "titleColor": "black"},
  "axisLeft": {"domainWidth": 3.5, "tickWidth": 3, "tickSize": 7, "labelFont": "Liberation Sans", "labelFontSize": 22, "labelFontWeight": "bold", "labelPadding": 1, "titleFont": "Liberation Serif", "titleFontSize": 22, "titleFontWeight": "bold", "titleLineHeight": 20, "titleX": -75, "titleAngle": -90, "titleBaseline": "alphabetic", "titleAlign": "center"},
  "axisBottom": {"domainWidth": 3.5, "tickWidth": 3, "tickSize": 8, "labelFont": "Liberation Serif", "labelFontSize": 28, "labelFontWeight": "normal", "labelAngle": 0, "labelLineHeight": 36, "labelBaseline": "top", "labelPadding": 13, "titleFont": "Liberation Serif", "titleFontSize": 28, "titleFontWeight": "normal", "titleAlign": "right", "titleY": 21, "titleBaseline": "top", "titleAngle": 0},
  "axisTop": {"domain": false, "ticks": false, "labels": false, "titleFont": "Liberation Serif", "titleFontSize": 30, "titleFontStyle": "italic", "titleFontWeight": "bold", "titleY": 2, "titleBaseline": "alphabetic", "titleAlign": "center", "titleAngle": 0}
}
}
